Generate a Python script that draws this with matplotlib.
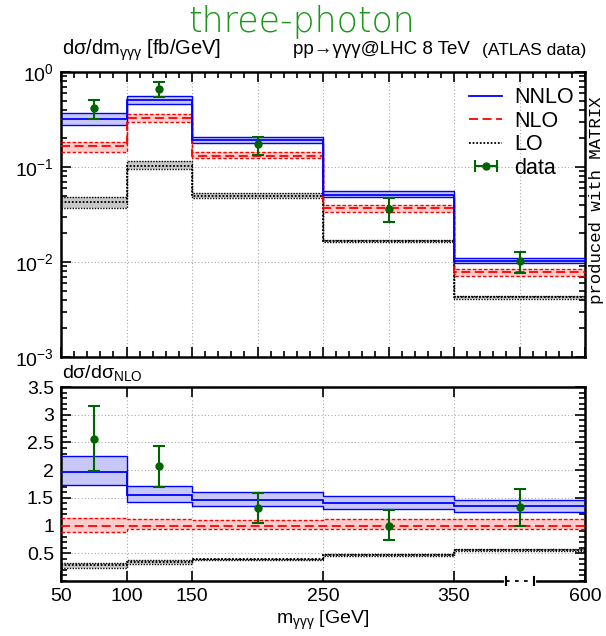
import numpy as np
import matplotlib
matplotlib.use("Agg")
import matplotlib.pyplot as plt
from matplotlib.ticker import FixedLocator, NullFormatter, MultipleLocator, LogLocator

plt.rcParams['font.family'] = ['Liberation Sans', 'DejaVu Sans']
plt.rcParams['mathtext.fontset'] = 'custom'
plt.rcParams['mathtext.rm'] = 'Liberation Sans'
plt.rcParams['mathtext.it'] = 'Liberation Sans:italic'
plt.rcParams['mathtext.bf'] = 'Liberation Sans:bold'

# ---------------- data ----------------
bin_edges = [50, 100, 150, 250, 350, 600]          # real GeV edges
tick_labels = ['50', '100', '150', '250', '350', '600']

nnlo    = [0.318, 0.507, 0.192, 0.0507, 0.0103]
nnlo_lo = [0.277, 0.460, 0.178, 0.0487, 0.0097]
nnlo_hi = [0.367, 0.559, 0.209, 0.0559, 0.0111]
nlo     = [0.166, 0.325, 0.131, 0.0367, 0.00785]
nlo_lo  = [0.144, 0.295, 0.123, 0.0339, 0.00713]
nlo_hi  = [0.183, 0.361, 0.145, 0.0398, 0.0084]
lo      = [0.0431, 0.102, 0.0500, 0.0166, 0.00425]
lo_lo   = [0.0373, 0.095, 0.0470, 0.0162, 0.0041]
lo_hi   = [0.0487, 0.117, 0.0530, 0.0170, 0.0044]
data    = [0.414, 0.662, 0.173, 0.0361, 0.0102]
data_hi = [0.507, 0.790, 0.209, 0.0468, 0.0126]
data_lo = [0.318, 0.546, 0.134, 0.0262, 0.0076]

r_nnlo    = [1.96, 1.55, 1.47, 1.41, 1.35]
r_nnlo_hi = [2.26, 1.72, 1.60, 1.53, 1.47]
r_nnlo_lo = [1.74, 1.42, 1.35, 1.30, 1.25]
r_nlo     = [1.0, 1.0, 1.0, 1.0, 1.0]
r_nlo_hi  = [1.14, 1.11, 1.10, 1.11, 1.11]
r_nlo_lo  = [0.89, 0.93, 0.93, 0.93, 0.93]
r_lo      = [0.285, 0.34, 0.39, 0.47, 0.56]
r_lo_hi   = [0.33, 0.37, 0.405, 0.48, 0.57]
r_lo_lo   = [0.24, 0.31, 0.37, 0.46, 0.55]
r_data    = [2.56, 2.07, 1.32, 1.00, 1.33]
r_data_hi = [3.15, 2.43, 1.59, 1.28, 1.66]
r_data_lo = [1.98, 1.69, 1.04, 0.735, 1.00]

# broken axis: last bin (350-600) is drawn with width 100
def to_disp(x):
    x = np.asarray(x, dtype=float)
    return np.where(x <= 350, x, 350 + (x - 350) * 100.0 / 250.0)

edges = to_disp(bin_edges)
centers = 0.5 * (edges[:-1] + edges[1:])

BLUE = '#0000ff'
RED = '#ff0000'
GREEN = '#006400'

fig = plt.figure(figsize=(6.06, 6.36), dpi=100)
ax1 = fig.add_axes([61/606, 1-357/636, (585-61)/606, (357-72)/636])
ax2 = fig.add_axes([61/606, 1-581/636, (585-61)/606, (581-387)/636])


def draw(ax, c, lo_, hi_, color, fill, ls_c, ls_b, lw_c=1.3, lw_b=1.0, label=None):
    ax.stairs(hi_, edges, baseline=lo_, fill=True, color=fill, lw=0, zorder=2)
    ax.stairs(hi_, edges, baseline=None, color=color, ls=ls_b, lw=lw_b, zorder=3)
    ax.stairs(lo_, edges, baseline=None, color=color, ls=ls_b, lw=lw_b, zorder=3)
    ax.stairs(c, edges, baseline=None, color=color, ls=ls_c, lw=lw_c, zorder=4, label=label)


for ax, sets in [
    (ax1, [(lo, lo_lo, lo_hi), (nlo, nlo_lo, nlo_hi), (nnlo, nnlo_lo, nnlo_hi),
           (data, data_lo, data_hi)]),
    (ax2, [(r_lo, r_lo_lo, r_lo_hi), (r_nlo, r_nlo_lo, r_nlo_hi), (r_nnlo, r_nnlo_lo, r_nnlo_hi),
           (r_data, r_data_lo, r_data_hi)])]:
    (L, Ll, Lh), (N, Nl, Nh), (NN, NNl, NNh), (D, Dl, Dh) = sets
    draw(ax, L, Ll, Lh, 'black', '#c8c8c8', (0, (1, 1)), (0, (1, 1)), label='LO')
    draw(ax, N, Nl, Nh, RED, '#ffcccc', (0, (5, 2.5)), (0, (2.5, 1.5)), label='NLO')
    draw(ax, NN, NNl, NNh, BLUE, '#c8c8f8', '-', '-', label='NNLO')
    D = np.array(D); Dl = np.array(Dl); Dh = np.array(Dh)
    ax.errorbar(centers, D, yerr=[D - Dl, Dh - D], fmt='o', color=GREEN, ms=5,
                capsize=4.5, elinewidth=1.5, capthick=1.5, zorder=6)

# legend proxy for data: horizontal bar with caps and a dot
data_proxy = ax1.errorbar([np.nan], [np.nan], xerr=[1.0], fmt='o', color=GREEN, ms=5,
                          capsize=4.5, elinewidth=1.5, capthick=1.5)

# ---- top axis ----
ax1.set_yscale('log')
ax1.set_ylim(1e-3, 1)
ax1.set_xlim(50, 450)
ax1.xaxis.set_major_locator(MultipleLocator(50))
ax1.xaxis.set_minor_locator(MultipleLocator(10))
ax1.xaxis.set_major_formatter(NullFormatter())
ax1.yaxis.set_major_locator(LogLocator(base=10, numticks=10))
ax1.yaxis.set_minor_locator(LogLocator(base=10, subs=np.arange(2, 10), numticks=10))
ax1.grid(True, which='major', color='#aaaaaa', ls=(0, (1, 2)), lw=0.8)

# ---- ratio axis ----
ax2.set_xlim(50, 450)
ax2.set_ylim(0, 3.5)
ax2.xaxis.set_major_locator(FixedLocator(list(edges)))
ax2.set_xticklabels(tick_labels)
ax2.yaxis.set_major_locator(FixedLocator([0.5, 1, 1.5, 2, 2.5, 3, 3.5]))
ax2.yaxis.set_minor_locator(MultipleLocator(0.1))
ax2.set_yticklabels(['0.5', '1', '1.5', '2', '2.5', '3', '3.5'])
ax2.grid(True, which='major', color='#aaaaaa', ls=(0, (1, 2)), lw=0.8)

for ax in (ax1, ax2):
    ax.tick_params(which='both', direction='in', top=True, right=True, labelsize=14,
                   width=1.2, pad=5)
    ax.tick_params(which='major', length=7)
    ax.tick_params(which='minor', length=4)
    for s in ax.spines.values():
        s.set_linewidth(1.8)
    ax.set_axisbelow(True)

# axis break marker on ratio panel bottom
xb0, xb1 = 390, 411
ax2.plot([xb0, xb1], [0, 0], color='white', lw=3, clip_on=False, zorder=10)
ax2.plot([xb0, xb1], [0, 0], color='black', lw=1.3, ls=(0, (2, 3)), clip_on=False, zorder=11)
for xb in (xb0, xb1):
    ax2.plot([xb, xb], [-0.07, 0.07], color='black', lw=1.5, clip_on=False, zorder=11)

ax2.set_xlabel('m$_{\\mathregular{γγγ}}$ [GeV]', fontsize=14, labelpad=3)

# legend
h, l = ax1.get_legend_handles_labels()
order = ['NNLO', 'NLO', 'LO']
hh = [h[l.index(o)] for o in order] + [data_proxy]
ax1.legend(hh, order + ['data'], loc='upper left', bbox_to_anchor=(393/524, 1.0),
           frameon=False, fontsize=15.5, handlelength=1.55, handletextpad=0.55,
           labelspacing=0.12, borderaxespad=0.3)

# texts
fig.text(0.497, 1 - 22/636, 'three-photon', color='#1a961a', fontsize=25,
         family='DejaVu Sans', fontweight=200, ha='center', va='center')
fig.text(62/606, 1 - 50/636, 'dσ/dm$_{\\mathregular{γγγ}}$ [fb/GeV]', fontsize=14.5,
         ha='left', va='center')
fig.text(586/606, 1 - 50/636, '(ATLAS data)', fontsize=12.5, ha='right', va='center')
fig.text(470/606, 1 - 50/636, 'pp→γγγ@LHC 8 TeV', fontsize=13.5, ha='right', va='center',
         family=['Liberation Sans', 'DejaVu Sans'])
fig.text(62/606, 1 - 373/636, 'dσ/dσ$_{\\mathregular{NLO}}$', fontsize=14,
         ha='left', va='center')
fig.text(597/606, 1 - 200/636, 'produced with MATRIX', fontsize=12.5, rotation=90,
         family='Liberation Mono', ha='center', va='center')

fig.savefig('out.png', dpi=100)
